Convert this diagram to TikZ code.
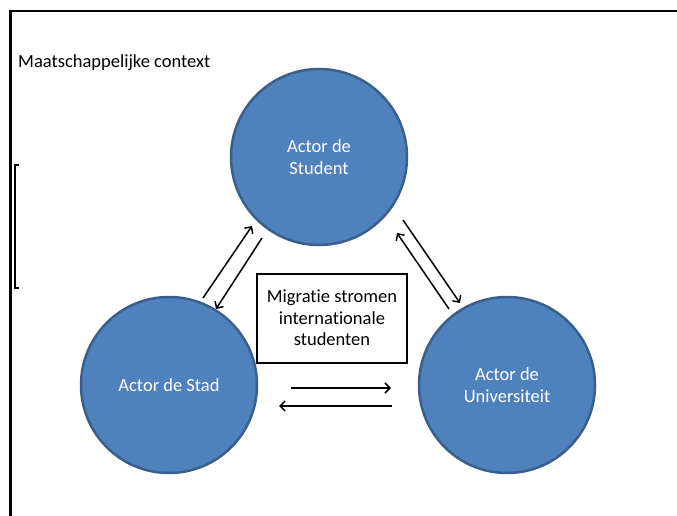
\documentclass[tikz,border=0pt]{standalone}
\usepackage{fontspec}
\setmainfont{Carlito}[Ligatures={NoCommon}]
\usetikzlibrary{arrows.meta}
\definecolor{actorblue}{HTML}{4F81BD}
\definecolor{actoredge}{HTML}{3A5F8B}
\begin{document}
\begin{tikzpicture}[x=1pt,y=-1pt,
  actor/.style={circle,fill=actorblue,draw=actoredge,line width=2.5pt,minimum size=176pt,inner sep=0pt,text=white,font=\fontsize{18.5}{21.5}\selectfont,align=center},
  flowbox/.style={draw=black,line width=2pt,fill=white,minimum width=150pt,minimum height=89pt,align=center,font=\fontsize{18.5}{21.5}\selectfont},
  flow/.style={line width=1.5pt,-{Straight Barb[length=5pt,width=10pt,line width=1.5pt]}}]
\useasboundingbox (0,0) rectangle (677,516);
% frame
\draw[line width=2.5pt] (10.5,516) -- (10.5,11) -- (677,11);
% small bracket
\draw[line width=2pt] (18.5,165) -- (15,165) -- (15,288) -- (18.5,288);
\node[anchor=west,font=\fontsize{18.5}{22}\selectfont,inner sep=0pt] (ctx) at (18,63) {Maatschappelijke context};
% actors
\node[actor] (student) at (319,157) {Actor de\\Student};
\node[actor] (stad) at (169,385) {Actor de Stad};
\node[actor] (uni) at (507,385) {Actor de\\Universiteit};
\node[flowbox] (mig) at (332,318) {Migratie stromen\\internationale\\studenten};
% arrow endpoints
\coordinate (a1s) at (203,298); \coordinate (a1e) at (252,226);
\coordinate (a2s) at (262,238); \coordinate (a2e) at (216,309);
\coordinate (a3s) at (403,220); \coordinate (a3e) at (460,303);
\coordinate (a4s) at (449,309); \coordinate (a4e) at (397,233);
\coordinate (a5s) at (291,388); \coordinate (a5e) at (391,388);
\coordinate (a6s) at (392,406); \coordinate (a6e) at (279,406);
\draw[flow] (a1s) -- (a1e);
\draw[flow] (a2s) -- (a2e);
\draw[flow] (a3s) -- (a3e);
\draw[flow] (a4s) -- (a4e);
\draw[flow] (a5s) -- (a5e);
\draw[flow] (a6s) -- (a6e);
\end{tikzpicture}
\end{document}
